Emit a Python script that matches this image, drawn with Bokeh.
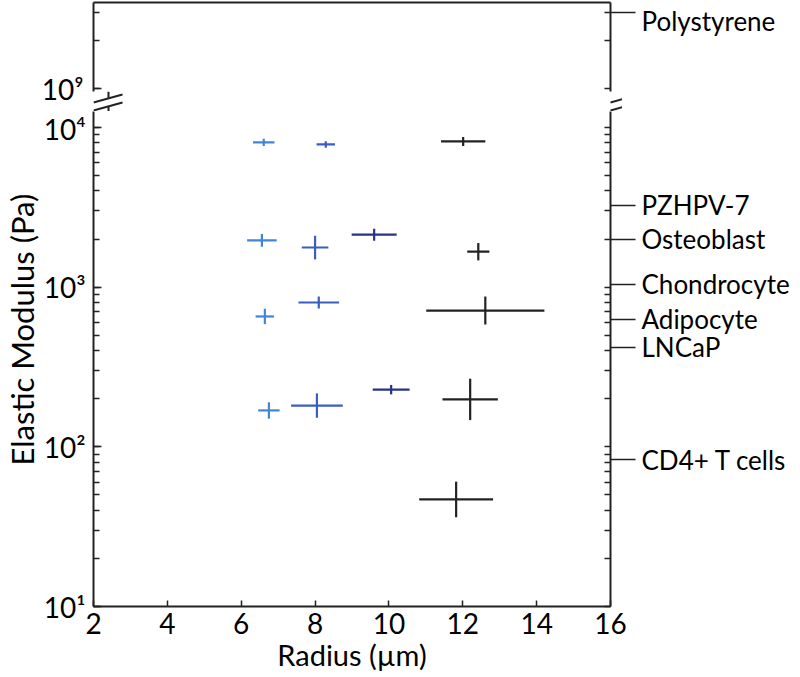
import math
from bokeh.plotting import figure
from bokeh.models import Range1d, FixedTicker, LogAxis, ColumnDataSource, Title
from bokeh.layouts import column
from bokeh.embed import file_html
from bokeh.resources import INLINE

# ---------------- data ----------------
radius = [6.61, 8.29, 12.01, 6.56, 8.00, 9.60, 12.42, 6.64, 8.10, 12.61, 10.06, 6.75, 8.05, 12.20, 11.82]
radius_err = [0.29, 0.25, 0.60, 0.40, 0.36, 0.61, 0.30, 0.25, 0.55, 1.60, 0.50, 0.29, 0.70, 0.75, 1.00]
modulus = [8060, 7820, 8170, 1960, 1770, 2130, 1670, 655, 801, 713, 228, 169, 181, 198, 46.8]
modulus_low = [7640, 7450, 7660, 1790, 1490, 1950, 1470, 586, 735, 583, 213, 150, 152, 147, 36.2]
modulus_high = [8500, 8200, 8720, 2150, 2100, 2320, 1890, 732, 873, 873, 244, 190, 216, 267, 60.5]
group = ["light", "medium", "black", "light", "medium", "navy", "black", "light",
         "medium", "black", "navy", "light", "medium", "black", "black"]
group_colors = {"light": "#3f86d8", "medium": "#3b5cc0", "navy": "#2a3184", "black": "#222222"}

material_names = ["PZHPV-7", "Osteoblast", "Chondrocyte", "Adipocyte", "LNCaP", "CD4+ T cells"]
material_moduli = [3250, 2000, 1040, 628, 419, 83]
upper_material_names = ["Polystyrene"]
upper_material_moduli = [3.0e9]

x_ticks = [2, 4, 6, 8, 10, 12, 14, 16]
lower_major = [10, 100, 1000, 10000]
lower_labels = ["10\u00b9", "10\u00b2", "10\u00b3", "10\u2074"]
upper_major = [1e9]
upper_labels = ["10\u2079"]
upper_minor = [1e9, 2e9, 3e9]
lower_minor = [m * 10 ** d for d in range(1, 4) for m in range(1, 10)] + [10000]

# axis-break strip drawn in its own small pixel-unit panel (decoration only)
brk_x0 = [-15, -15, 502, 502, 0, 0, 517, 517]
brk_y0 = [9, 1, 9, 1, 13.1, 0, 13.1, 0]
brk_x1 = [14, 14, 531, 531, 0, 0, 517, 517]
brk_y1 = [17, 9, 17, 9, 20, 5.1, 20, 5.1]

FONT = "Lato"
INK = "#222222"
TICK_FS = "28px"
LABEL_FS = "29px"
YLABEL_FS = "31px"
RIGHT_FS = "26px"

src = ColumnDataSource(dict(
    x=radius, xl=[r - e for r, e in zip(radius, radius_err)], xh=[r + e for r, e in zip(radius, radius_err)],
    y=modulus, yl=modulus_low, yh=modulus_high, color=[group_colors[g] for g in group]))

x_range = Range1d(2, 16)

def base_fig(frame_h, y_range, top_border, bottom_border, x_loc):
    p = figure(frame_width=517, frame_height=frame_h, x_range=x_range, y_range=y_range,
               y_axis_type="log", x_axis_location=x_loc, output_backend="svg",
               toolbar_location=None, min_border_left=90, min_border_right=185,
               min_border_top=top_border, min_border_bottom=bottom_border)
    p.outline_line_color = None
    p.grid.visible = False
    p.background_fill_color = "white"
    p.border_fill_color = None
    return p

def style_axis(ax):
    ax.axis_line_color = INK
    ax.axis_line_width = 2
    ax.major_tick_line_color = INK
    ax.minor_tick_line_color = INK
    ax.major_tick_line_width = 1.5
    ax.minor_tick_line_width = 1.5
    ax.major_label_text_font = FONT
    ax.major_label_text_color = "black"
    ax.axis_label_text_font = FONT
    ax.axis_label_text_font_style = "normal"
    ax.axis_label_text_color = "black"

def right_axis(ticks, names, minor):
    ax = LogAxis(ticker=FixedTicker(ticks=ticks, minor_ticks=minor),
                 major_label_overrides={v: t for v, t in zip(ticks, names)})
    style_axis(ax)
    ax.major_tick_in = 0
    ax.major_tick_out = 25
    ax.minor_tick_in = 6
    ax.minor_tick_out = 0
    ax.major_label_standoff = 6
    ax.major_label_text_font_size = RIGHT_FS
    return ax

# ---------------- upper panel ----------------
pu = base_fig(89, Range1d(0.958e9, 3.455e9), 2, 16, "above")
xa = pu.xaxis[0]
style_axis(xa)
xa.ticker = FixedTicker(ticks=[])
xa.major_tick_in = 0
xa.major_tick_out = 0
xa.minor_tick_in = 0
xa.minor_tick_out = 0
xa.major_label_text_font_size = "0px"
xa.major_label_standoff = 0

ya = pu.yaxis[0]
style_axis(ya)
ya.ticker = FixedTicker(ticks=upper_major, minor_ticks=upper_minor)
ya.major_label_overrides = {v: t for v, t in zip(upper_major, upper_labels)}
ya.major_tick_in = 8
ya.major_tick_out = 0
ya.minor_tick_in = 6
ya.minor_tick_out = 0
ya.major_label_standoff = 10
ya.major_label_text_font_size = TICK_FS
pu.add_layout(right_axis(upper_material_moduli, upper_material_names, upper_minor), "right")

# ---------------- break strip (overlaps the upper panel's bottom border) ----------------
pm = figure(frame_width=547, frame_height=20, x_range=Range1d(-15, 532), y_range=Range1d(0, 20),
            x_axis_location=None, y_axis_location=None, output_backend="svg",
            toolbar_location=None, min_border_left=75, min_border_right=0,
            min_border_top=0, min_border_bottom=0, margin=(-16, 0, 0, 0))
pm.outline_line_color = None
pm.grid.visible = False
pm.background_fill_color = None
pm.border_fill_color = None
pm.segment(x0=brk_x0, y0=brk_y0, x1=brk_x1, y1=brk_y1, line_color=INK, line_width=2)

# ---------------- lower panel ----------------
pl = base_fig(495, Range1d(10, 12580), 0, 66, "below")
xb = pl.xaxis[0]
style_axis(xb)
xb.ticker = FixedTicker(ticks=x_ticks)
xb.major_tick_in = 6
xb.major_tick_out = 0
xb.minor_tick_in = 0
xb.minor_tick_out = 0
xb.major_label_standoff = 6
xb.major_label_text_font_size = TICK_FS
xb.axis_label = "Radius (\u00b5m)"
xb.axis_label_text_font_size = LABEL_FS
xb.axis_label_standoff = 0

yb = pl.yaxis[0]
style_axis(yb)
yb.ticker = FixedTicker(ticks=lower_major, minor_ticks=lower_minor)
yb.major_label_overrides = {v: t for v, t in zip(lower_major, lower_labels)}
yb.major_tick_in = 8
yb.major_tick_out = 0
yb.minor_tick_in = 6
yb.minor_tick_out = 0
yb.major_label_standoff = 8
yb.major_label_text_font_size = TICK_FS

pl.add_layout(Title(text="Elastic Modulus (Pa)", align="left", offset=141, standoff=0,
                    text_font=FONT, text_font_size=YLABEL_FS, text_font_style="normal",
                    text_color="black"), "left")
pl.add_layout(right_axis(material_moduli, material_names, lower_minor), "right")

pl.segment(x0="xl", y0="y", x1="xh", y1="y", source=src, line_color="color", line_width=2.2)
pl.segment(x0="x", y0="yl", x1="x", y1="yh", source=src, line_color="color", line_width=2.2)

layout = column(pu, pm, pl, spacing=0)
open("out.html", "w").write(file_html(layout, INLINE))
